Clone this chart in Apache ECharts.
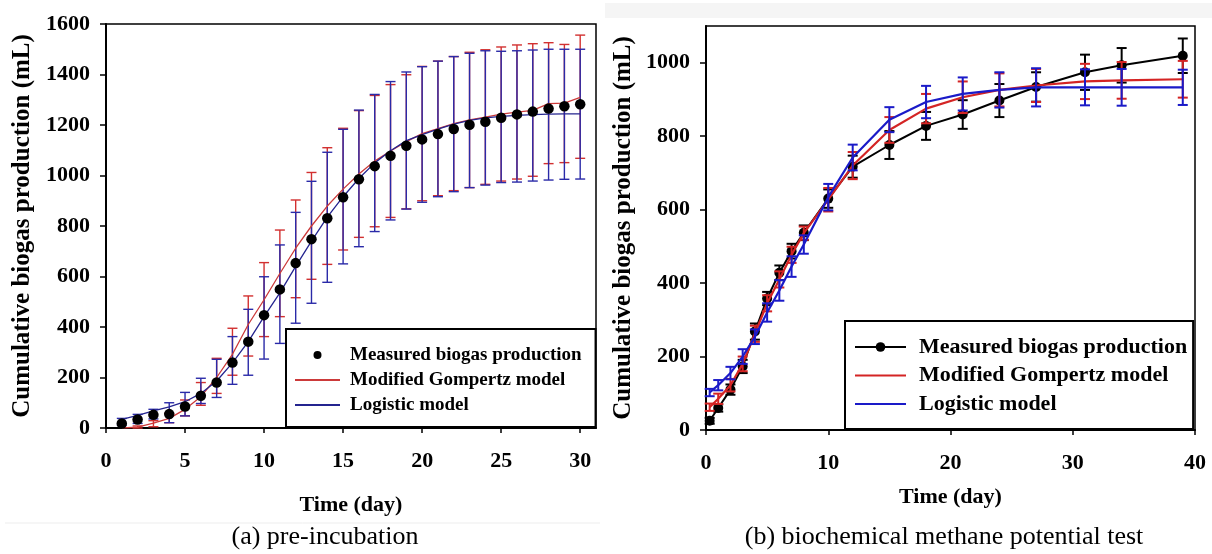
<!DOCTYPE html>
<html>
<head>
<meta charset="utf-8">
<script src="https://cdn.jsdelivr.net/npm/echarts@6/dist/echarts.min.js"></script>
<style>
html,body{margin:0;padding:0;background:#fff;}
#chart{width:1212px;height:554px;}
</style>
</head>
<body>
<div id="chart"></div>
<script>
// ---------- (a) pre-incubation ----------
const preDays = [1,2,3,4,5,6,7,8,9,10,11,12,13,14,15,16,17,18,19,20,21,22,23,24,25,26,27,28,29,30];
const preMeasured = [18,34,52,55,85,128,180,259,342,447,549,653,748,831,914,985,1037,1078,1118,1143,1164,1184,1201,1213,1229,1242,1253,1265,1274,1282];
const preGompertz = [0,3,19,38,74,124,200,292,410,508,612,712,800,879,946,1006,1057,1097,1134,1166,1186,1205,1220,1231,1243,1251,1258,1285,1287,1309];
const preGompertzHi = [null,8,29,58,111,180,276,395,523,655,784,903,1012,1110,1187,1257,1317,1360,1399,1432,1453,1471,1488,1498,1509,1517,1522,1526,1519,1556];
const preGompertzLo = [null,0,5,21,48,90,137,209,285,362,441,516,589,648,705,755,797,834,868,900,920,940,952,965,978,986,997,1047,1051,1068];
const preLogistic = [34,50,68,84,104,137,186,258,342,441,535,640,740,835,916,988,1050,1098,1138,1162,1184,1203,1218,1228,1234,1238,1241,1243,1244,1244];
const preLogisticHi = [38,54,74,100,141,197,272,362,470,599,725,854,977,1092,1183,1259,1321,1372,1410,1431,1453,1471,1484,1494,1492,1494,1497,1500,1500,1500];
const preLogisticLo = [12,18,36,21,48,97,121,173,209,273,335,415,494,577,650,718,778,824,867,894,916,936,952,962,972,974,978,982,985,986];

// ---------- (b) biochemical methane potential test ----------
const bmpDays = [0.3,1,2,3,4,5,6,7,8,10,12,15,18,21,24,27,31,34,39];
const bmpMeasured = [25,60,110,173,268,358,428,487,537,630,717,776,828,859,897,934,974,993,1019];
const bmpMeasuredErr = [8,10,14,18,22,18,20,20,20,25,30,38,38,39,45,40,48,47,47];
const bmpGompertz = [62,85,122,180,262,345,410,477,536,627,720,817,875,906,926,938,949,952,955];
const bmpGompertzErr = [10,14,17,20,22,22,22,22,18,32,37,35,40,43,45,45,48,50,50];
const bmpLogistic = [102,122,155,200,254,320,380,445,505,634,742,845,893,915,926,933,933,933,933];
const bmpLogisticErr = [10,14,17,20,20,25,28,28,25,36,35,34,44,45,48,52,49,50,48];

const SERIF = "'Liberation Serif','Times New Roman',serif";

function pairs(xs, ys){ return xs.map((x,i)=> ys[i]==null ? null : [x, ys[i]]).filter(Boolean); }
function rangesLoHi(xs, lo, hi){ return xs.map((x,i)=> (lo[i]==null||hi[i]==null) ? null : [x, lo[i], hi[i]]).filter(Boolean); }
function rangesErr(xs, ys, err){ return xs.map((x,i)=> [x, ys[i]-err[i], ys[i]+err[i]]); }

function errBar(capHalf, color, width){
  return function(params, api){
    const x = api.value(0), lo = api.value(1), hi = api.value(2);
    const t = api.coord([x, hi]), b = api.coord([x, lo]);
    const st = {stroke: color, lineWidth: width};
    return {type:'group', children:[
      {type:'line', shape:{x1:t[0], y1:t[1], x2:b[0], y2:b[1]}, style:st},
      {type:'line', shape:{x1:t[0]-capHalf, y1:t[1], x2:t[0]+capHalf, y2:t[1]}, style:st},
      {type:'line', shape:{x1:b[0]-capHalf, y1:b[1], x2:b[0]+capHalf, y2:b[1]}, style:st}
    ]};
  };
}

const boldText = (size)=>({fontFamily:SERIF, fontWeight:'bold', fontSize:size, color:'#000'});
const plain = (v)=> String(v);

function xAxisCfg(gi, max, interval, nameGap){
  return {gridIndex:gi, type:'value', min:0, max:max, interval:interval,
    axisLine:{show:true, onZero:false, lineStyle:{color:'#000', width:2}},
    axisTick:{show:true, length:5, lineStyle:{color:'#000', width:1.5}},
    axisLabel:Object.assign({showMaxLabel: max % interval === 0, margin:22, formatter:plain}, boldText(22)),
    splitLine:{show:false},
    name:'Time (day)', nameLocation:'middle', nameGap:nameGap, nameTextStyle:boldText(22)};
}
function yAxisCfg(gi, max, interval, nameGap){
  return {gridIndex:gi, type:'value', min:0, max:max, interval:interval,
    axisLine:{show:true, onZero:false, lineStyle:{color:'#000', width:2}},
    axisTick:{show:true, length:6, lineStyle:{color:'#000', width:1.5}},
    axisLabel:Object.assign({showMaxLabel: max % interval === 0, margin:16, formatter:plain}, boldText(22)),
    splitLine:{show:false},
    name:'Cumulative biogas production (mL)', nameLocation:'middle', nameGap:nameGap, nameTextStyle:boldText(25)};
}

const chart = echarts.init(document.getElementById('chart'), null, {renderer:'canvas'});

const lineIconA = 'path://M0,0H45V2H0Z';
const lineIconB = 'path://M0,0H51V2.2H0Z';

const option = {
  backgroundColor:'#fff',
  animation:false,
  grid:[
    {left:106, top:24, width:490, height:404, show:true, borderColor:'#000', borderWidth:1.5, backgroundColor:'transparent'},
    {left:706, top:26, width:489, height:404, show:true, borderColor:'#000', borderWidth:1.5, backgroundColor:'transparent'}
  ],
  xAxis:[ xAxisCfg(0, 31, 5, 66), xAxisCfg(1, 40, 10, 56) ],
  yAxis:[ yAxisCfg(0, 1600, 200, 71), yAxisCfg(1, 1100, 200, 70) ],
  legend:[
    {data:[{name:'a:Measured biogas production'},
           {name:'a:Modified Gompertz model', icon:lineIconA},
           {name:'a:Logistic model', icon:lineIconA}],
     orient:'vertical', left:286, top:329, padding:[15,14,11,9],
     itemWidth:45, itemHeight:8, itemGap:3, borderColor:'#000', borderWidth:2, backgroundColor:'#fff',
     selectedMode:false,
     formatter:function(n){return n.slice(2);},
     textStyle:Object.assign({lineHeight:22, padding:[0,0,0,5]}, boldText(19)), z:10},
    {data:[{name:'b:Measured biogas production'},
           {name:'b:Modified Gompertz model', icon:lineIconB},
           {name:'b:Logistic model', icon:lineIconB}],
     orient:'vertical', left:845, top:321, padding:[13.5,6,12.5,9],
     itemWidth:51, itemHeight:12, itemGap:3.5, borderColor:'#000', borderWidth:2, backgroundColor:'#fff',
     selectedMode:false,
     formatter:function(n){return n.slice(2);},
     textStyle:Object.assign({lineHeight:25, padding:[0,0,0,8]}, boldText(22)), z:10}
  ],
  series:[
    // left
    {type:'custom', name:'a:gerr', xAxisIndex:0, yAxisIndex:0, renderItem:errBar(5, '#d23030', 1.4),
     data:rangesLoHi(preDays, preGompertzLo, preGompertzHi), encode:{x:0, y:[1,2]}, z:2, silent:true},
    {type:'custom', name:'a:lerr', xAxisIndex:0, yAxisIndex:0, renderItem:errBar(5, '#2a2aa8', 1.4),
     data:rangesLoHi(preDays, preLogisticLo, preLogisticHi), encode:{x:0, y:[1,2]}, z:3, silent:true},
    {type:'line', name:'a:Modified Gompertz model', xAxisIndex:0, yAxisIndex:0, data:pairs(preDays, preGompertz),
     symbol:'none', smooth:false, lineStyle:{color:'#cc3a3a', width:1.3}, itemStyle:{color:'#cc3a3a'}, z:4},
    {type:'line', name:'a:Logistic model', xAxisIndex:0, yAxisIndex:0, data:pairs(preDays, preLogistic),
     symbol:'none', smooth:false, lineStyle:{color:'#24248f', width:1.3}, itemStyle:{color:'#24248f'}, z:4},
    {type:'scatter', name:'a:Measured biogas production', xAxisIndex:0, yAxisIndex:0, data:pairs(preDays, preMeasured),
     symbol:'circle', symbolSize:10.5, itemStyle:{color:'#000', opacity:1}, z:6},
    // right
    {type:'line', name:'b:Measured biogas production', xAxisIndex:1, yAxisIndex:1, data:pairs(bmpDays, bmpMeasured),
     symbol:'circle', symbolSize:10, showSymbol:true, lineStyle:{color:'#000', width:2}, itemStyle:{color:'#000', opacity:1}, z:3},
    {type:'custom', name:'b:merr', xAxisIndex:1, yAxisIndex:1, renderItem:errBar(5, '#000', 2),
     data:rangesErr(bmpDays, bmpMeasured, bmpMeasuredErr), encode:{x:0, y:[1,2]}, z:3, silent:true},
    {type:'line', name:'b:Modified Gompertz model', xAxisIndex:1, yAxisIndex:1, data:pairs(bmpDays, bmpGompertz),
     symbol:'none', lineStyle:{color:'#d42424', width:2.2}, itemStyle:{color:'#d42424'}, z:4},
    {type:'custom', name:'b:gerr', xAxisIndex:1, yAxisIndex:1, renderItem:errBar(5, '#d42424', 2),
     data:rangesErr(bmpDays, bmpGompertz, bmpGompertzErr), encode:{x:0, y:[1,2]}, z:4, silent:true},
    {type:'line', name:'b:Logistic model', xAxisIndex:1, yAxisIndex:1, data:pairs(bmpDays, bmpLogistic),
     symbol:'none', lineStyle:{color:'#1a1ac8', width:2.2}, itemStyle:{color:'#1a1ac8'}, z:5},
    {type:'custom', name:'b:lerr', xAxisIndex:1, yAxisIndex:1, renderItem:errBar(5, '#1a1ac8', 2),
     data:rangesErr(bmpDays, bmpLogistic, bmpLogisticErr), encode:{x:0, y:[1,2]}, z:5, silent:true}
  ],
  graphic:[
    {type:'rect', shape:{x:605, y:3, width:607, height:15}, style:{fill:'#f5f5f5'}, silent:true, z:-1},
    {type:'line', shape:{x1:5, y1:523, x2:600, y2:523}, style:{stroke:'#ededed', lineWidth:1}, silent:true},
    {type:'text', x:325, y:537, style:{text:'(a) pre-incubation', fontFamily:SERIF, fontSize:26, fill:'#000', textAlign:'center', textVerticalAlign:'middle'}},
    {type:'text', x:944, y:537, style:{text:'(b) biochemical methane potential test', fontFamily:SERIF, fontSize:26, fill:'#000', textAlign:'center', textVerticalAlign:'middle'}}
  ]
};
chart.setOption(option);
</script>
</body>
</html>
